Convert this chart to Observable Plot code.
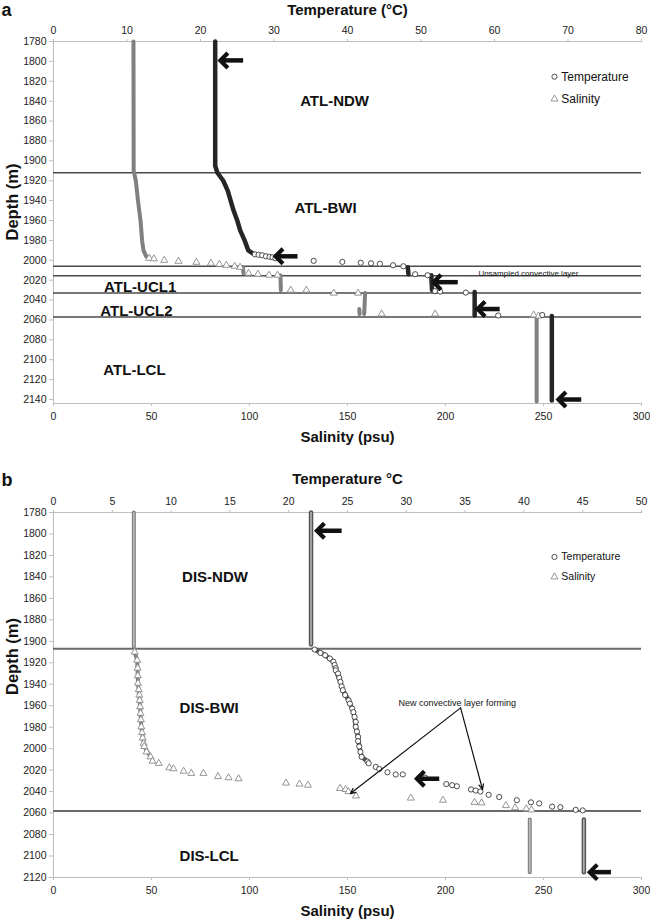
<!DOCTYPE html>
<html><head><meta charset="utf-8">
<script src="https://cdn.jsdelivr.net/npm/d3@7"></script>
<script src="https://cdn.jsdelivr.net/npm/@observablehq/plot@0.6"></script>
<style>
body{margin:0;background:#fff;width:650px;font-family:"Liberation Sans",Arial,sans-serif;}
#chart svg{display:block}
</style></head><body><div id="chart"></div>
<script>
// ---------- axis ticks ----------
const SAL_TICKS = [0, 50, 100, 150, 200, 250, 300];
const TEMP_TICKS_A = [0, 10, 20, 30, 40, 50, 60, 70, 80];
const TEMP_TICKS_B = [0, 5, 10, 15, 20, 25, 30, 35, 40, 45, 50];
const DEPTH_TICKS_A = [1780,1800,1820,1840,1860,1880,1900,1920,1940,1960,1980,2000,2020,2040,2060,2080,2100,2120,2140];
const DEPTH_TICKS_B = [1780,1800,1820,1840,1860,1880,1900,1920,1940,1960,1980,2000,2020,2040,2060,2080,2100,2120];

// ---------- panel a (Atlantis II) ----------
// dense profile segments: [segment, depth m, temperature °C]
const A_TEMP_LINE = [
  ["ndw",1780,22.0],["ndw",1905,22.0],["ndw",1912,22.3],["ndw",1920,23.1],["ndw",1930,23.7],["ndw",1940,24.1],
  ["ndw",1950,24.5],["ndw",1960,25.0],["ndw",1970,25.4],["ndw",1980,26.0],["ndw",1990,26.5],["ndw",1993,27.1],
  ["k1",2007,48.2],["k1",2014,48.3],
  ["k2",2015,51.4],["k2",2030,51.5],
  ["k3",2032,57.3],["k3",2055.5,57.3],
  ["lcl",2056,67.8],["lcl",2141,67.8]
];
// isolated temperature samples: [depth, °C]
const A_TEMP_DOTS = [
  [1994,27.4],[1994.5,27.9],[1995,28.4],[1996,28.9],[1996.5,29.4],[1997,29.8],[1998,30.2],
  [2000.6,35.4],[2001.6,39.3],[2002.5,41.8],[2003,43.2],[2003.5,44.4],[2005,46.2],[2006,47.6],
  [2014,49.2],[2015,50.9],
  [2031,51.9],[2031.5,52.6],[2032.5,56.1],
  [2055.5,60.5],[2055,66.5]
];
// dense salinity segments: [segment, depth, psu]
const A_SAL_LINE = [
  ["ndw",1780,40.8],["ndw",1910,40.9],["ndw",1920,42.0],["ndw",1940,43.1],["ndw",1960,44.4],["ndw",1980,45.2],
  ["ndw",1990,45.9],["ndw",1996,47.3],
  ["k1",2007,96.7],["k1",2013,96.9],
  ["k2",2015,115.8],["k2",2030,116.0],
  ["k3",2033,159.0],["k3",2054,158.5],
  ["k4",2049,156.0],["k4",2054,156.2],
  ["lcl",2057,246.5],["lcl",2142,246.5]
];
const A_SAL_DOTS = [
  [1998,48.8],[1998.5,51.2],[2000,56.5],[2001,63.8],[2002,72.9],[2003,80.3],[2004,84.6],[2005,88.2],[2006,92.4],[2007,95.2],
  [2013,99.5],[2014,104.3],[2015,110.0],[2015,114.3],
  [2030,121.0],[2030,129.0],[2033,143.0],[2033,155.4],
  [2054,167.4],[2054,194.7],[2055,245.0],[2056,247.5]
];
const A_BOUNDS = [1912, 2006, 2015.5, 2033, 2057];
const A_LABELS = [["ATL-NDW",143.4,1840],["ATL-BWI",138.8,1948],["ATL-UCL1",44.2,2027],["ATL-UCL2",42.3,2051.4],["ATL-LCL",41.3,2110.6]];
const A_NOTES = [["Unsampled convective layer",242.3,2012.9]];
// thick arrows: [depth, tip °C, tail °C]
const A_ARROWS = [[1799,22.7,25.8],[1996,30.2,33.2],[2022,51.7,55.0],[2049,57.7,60.7],[2140,68.7,71.8]];

// ---------- panel b (Discovery) ----------
const B_TEMP_LINE = [
  ["ndw",1780,21.9],["ndw",1903,21.9],
  ["bwi",1907.6,22.2],["bwi",1913,23.1],["bwi",1919,23.8],["bwi",1927,24.0],["bwi",1937.8,24.4],["bwi",1945.5,24.6],
  ["bwi",1955,25.1],["bwi",1962.6,25.4],["bwi",1970.4,25.6],["bwi",1979.7,25.7],["bwi",1989,25.9],["bwi",1998,26.0],
  ["bwi",2007.6,26.2],["bwi",2012,26.7],
  ["lcl",2066,45.1],["lcl",2115,45.1]
];
const B_TEMP_DOTS = [
  [1907.6,22.2],[1910.8,22.7],[1913,23.1],[1916,23.5],[1919,23.8],[1922,23.9],[1925,24.0],[1927,24.0],[1930,24.2],
  [1934,24.3],[1937.8,24.4],[1942,24.5],[1945.5,24.6],[1950,24.8],[1955,25.1],[1958,25.2],[1962.6,25.4],[1966,25.5],
  [1970.4,25.6],[1975,25.7],[1979.7,25.7],[1984,25.8],[1989,25.9],[1993,25.9],[1998,26.0],[2003,26.1],[2007.6,26.2],
  [2012,26.7],[2013.6,26.8],[2017,27.4],[2019,27.7],[2022,28.4],[2024,29.1],[2024,29.7],[2027,31.1],[2027,31.6],
  [2033,33.4],[2034,33.9],[2035,34.3],[2038,35.5],[2039,35.9],[2040,36.3],[2043,37.0],[2045,37.9],[2048,39.4],
  [2050,40.6],[2051,41.3],[2054,42.4],[2054.5,43.1],[2057,44.4],[2057.5,45.0]
];
const B_SAL_LINE = [
  ["ndw",1780,41.0],["ndw",1905,41.0],
  ["bwi",1910,41.4],["bwi",1917.6,42.7],["bwi",1939,43.1],["bwi",1961,44.2],["bwi",1979.7,44.8],["bwi",1998,46.3],
  ["bwi",2007.6,49.5],
  ["lcl",2066,243.0],["lcl",2115,243.0]
];
const B_SAL_DOTS = [
  [1910,41.4],[1917.6,42.7],[1925,42.9],[1932,43.0],[1939,43.1],[1945,43.5],[1950,43.8],[1955,44.0],[1961,44.2],
  [1967,44.4],[1973,44.6],[1979.7,44.8],[1985,45.2],[1990,45.5],[1995,46.0],[1998,46.3],[2003,47.5],[2007.6,49.5],
  [2011.6,50.5],[2013.7,53.7],[2017.8,59.1],[2018.7,61.2],[2021,66.4],[2023,70.3],[2023,76.5],[2026,83.9],[2027,89.3],
  [2028,94.4],[2032,118.6],[2033,125.5],[2034,129.8],[2037,146.2],[2038,149.0],[2040,150.5],[2044,154.3],[2046,182.3],
  [2048,198.7],[2050,214.8],[2050.5,218.4],[2053,230.8],[2055,235.5],[2056,241.2],[2057,243.9]
];
const B_BOUNDS = [1907, 2058];
const B_LABELS = [["DIS-NDW",82.4,1840],["DIS-BWI",79.4,1962.6],["DIS-LCL",79.4,2100]];
const B_NOTES = [["New convective layer forming",206,1957.3]];
const B_ARROWS = [[1797,22.4,24.5],[2028,30.9,32.8],[2115,45.6,47.4]];
// thin pointer arrows: [from psu-axis x, from depth, to psu-axis x, to depth]
const B_POINTERS = [[207.7,1962,151.5,2041.8],[207.7,1962,218.9,2038]];

const FONT = '"Liberation Sans", Arial, Helvetica, sans-serif';
const AXIS = "#bdbdbd";
// left-pointing chevron used as arrow head
const CHEVRON = {draw(context, size) {
  const r = Math.sqrt(size / Math.PI);
  context.moveTo(r, -r); context.lineTo(0, 0); context.lineTo(r, r);
}};

function panel(o) {
  const k = 300 / o.tMax; // temperature -> salinity-axis units (twin axis)
  const marks = [
    Plot.ruleX([0], {stroke: AXIS}),
    Plot.ruleY([o.domain[0]], {stroke: AXIS}),
    Plot.ruleY([o.domain[1]], {stroke: AXIS}),
    Plot.axisY({ticks: o.depthTicks, tickSize: 4, tickPadding: 3, stroke: AXIS, fill: "#222", fontSize: 10.5, label: null, tickFormat: d => String(d)}),
    Plot.axisX({anchor: "bottom", ticks: SAL_TICKS, tickSize: 3, tickPadding: 6, stroke: AXIS, fill: "#222", fontSize: 10.5, label: null, tickFormat: d => String(d)}),
    Plot.axisX({anchor: "top", ticks: o.tempTicks.map(t => t * k), tickFormat: v => String(Math.round(v / k)), tickSize: 3, tickPadding: 5, stroke: AXIS, fill: "#222", fontSize: 10.5, label: null}),
    Plot.ruleY(o.bounds, {stroke: o.boundColor, strokeWidth: o.boundWidth}),
    // salinity
    Plot.line(o.sLine, {x: d => d[2], y: d => d[1], z: d => d[0], stroke: "#808080", strokeWidth: o.sWidth}),
    o.inner ? Plot.line(o.sLine, {x: d => d[2], y: d => d[1], z: d => d[0], stroke: "#cfcfcf", strokeWidth: 1.2, filter: d => d[0] === "ndw" || d[0] === "lcl"}) : null,
    Plot.dot(o.sDots, {x: d => d[1], y: d => d[0], symbol: "triangle", r: 2.6, stroke: "#8a8a8a", strokeWidth: 0.9, fill: "white"}),
    // temperature
    Plot.line(o.tLine, {x: d => d[2] * k, y: d => d[1], z: d => d[0], stroke: o.tColor, strokeWidth: o.tWidth}),
    o.inner ? Plot.line(o.tLine, {x: d => d[2] * k, y: d => d[1], z: d => d[0], stroke: "#c8c8c8", strokeWidth: 1.3, filter: d => d[0] === "ndw" || d[0] === "lcl"}) : null,
    Plot.dot(o.tDots, {x: d => d[1] * k, y: d => d[0], r: 2.6, stroke: "#3a3a3a", strokeWidth: 0.9, fill: "white"}),
    // region labels
    Plot.text(o.labels, {x: d => d[1], y: d => d[2], text: d => d[0], fontSize: 15, fontWeight: "bold", fill: "#111"}),
    Plot.text(o.notes, {x: d => d[1], y: d => d[2], text: d => d[0], fontSize: o.noteSize, fill: "#111"}),
    // thick arrows: shaft + chevron head
    Plot.link(o.arrows, {x1: d => d[1] * k, x2: d => d[2] * k, y1: d => d[0], y2: d => d[0], stroke: "#111", strokeWidth: 4.5}),
    Plot.dot(o.arrows, {x: d => d[1] * k, y: d => d[0], symbol: CHEVRON, r: 7.5, stroke: "#111", strokeWidth: 4.2, fill: "none", strokeLinejoin: "miter", strokeLinecap: "butt"}),
    o.pointers ? Plot.arrow(o.pointers, {x1: d => d[0], y1: d => d[1], x2: d => d[2], y2: d => d[3], stroke: "#111", strokeWidth: 1.2, headLength: 7, headAngle: 50}) : null,
    // legend
    Plot.dot([o.legend[0]], {x: d => d[0], y: d => d[1], r: 2.6, stroke: "#3a3a3a", strokeWidth: 0.9, fill: "white"}),
    Plot.dot([o.legend[0]], {x: d => d[0], y: d => d[2], symbol: "triangle", r: 2.6, stroke: "#8a8a8a", strokeWidth: 0.9, fill: "white"}),
    Plot.text([o.legend[0]], {x: d => d[0] + 3.5, y: d => d[1], text: () => "Temperature", textAnchor: "start", fontSize: o.legendSize, fill: "#111"}),
    Plot.text([o.legend[0]], {x: d => d[0] + 3.5, y: d => d[2], text: () => "Salinity", textAnchor: "start", fontSize: o.legendSize, fill: "#111"}),
    // titles
    Plot.text([o.tempTitle], {frameAnchor: "top", dy: o.titleDy, fontSize: 15, fontWeight: "bold", fill: "#111", lineAnchor: "middle"}),
    Plot.text(["Salinity (psu)"], {frameAnchor: "bottom", dy: 34, fontSize: 15, fontWeight: "bold", fill: "#111", lineAnchor: "middle"}),
    Plot.text(["Depth (m)"], {frameAnchor: "left", dx: -41, dy: o.depthDy, rotate: -90, fontSize: 16.5, fontWeight: "bold", fill: "#111"}),
    Plot.text([o.letter], {frameAnchor: "top-left", dx: -52, dy: o.letterDy, textAnchor: "start", lineAnchor: "middle", fontSize: 18, fontWeight: "bold", fill: "#111"})
  ].filter(Boolean);
  return Plot.plot({
    width: 650, height: o.height,
    marginLeft: 53, marginRight: 9, marginTop: o.marginTop, marginBottom: o.marginBottom,
    style: {fontFamily: FONT, fontSize: "10.5px", background: "white", overflow: "visible"},
    x: {domain: [0, 300], axis: null},
    y: {domain: o.domain, reverse: true, axis: null},
    marks
  });
}

const chart = document.getElementById("chart");
chart.append(panel({
  tMax: 80, tempTicks: TEMP_TICKS_A, depthTicks: DEPTH_TICKS_A, domain: [1780, 2144],
  height: 447, marginTop: 41, marginBottom: 44,
  tLine: A_TEMP_LINE, tDots: A_TEMP_DOTS, sLine: A_SAL_LINE, sDots: A_SAL_DOTS,
  tColor: "#262626", tWidth: 4.5, sWidth: 4, inner: false,
  bounds: A_BOUNDS, boundColor: "#4a4a4a", boundWidth: 1.5,
  labels: A_LABELS, notes: A_NOTES, noteSize: 8, arrows: A_ARROWS,
  legend: [[255.6, 1815.4, 1837.8]], legendSize: 12,
  tempTitle: "Temperature (°C)", titleDy: -31, depthDy: 18, letter: "a", letterDy: -31
}));
chart.append(panel({
  tMax: 50, tempTicks: TEMP_TICKS_B, depthTicks: DEPTH_TICKS_B, domain: [1780, 2120],
  height: 474, marginTop: 65, marginBottom: 44,
  tLine: B_TEMP_LINE, tDots: B_TEMP_DOTS, sLine: B_SAL_LINE, sDots: B_SAL_DOTS,
  tColor: "#555", tWidth: 4.5, sWidth: 4, inner: true,
  bounds: B_BOUNDS, boundColor: "#6a6a6a", boundWidth: 2,
  labels: B_LABELS, notes: B_NOTES, noteSize: 9, arrows: B_ARROWS, pointers: B_POINTERS,
  legend: [[255.6, 1821.4, 1840]], legendSize: 10.5,
  tempTitle: "Temperature °C", titleDy: -33, depthDy: 0, letter: "b", letterDy: -32
}));
</script>
</body></html>
